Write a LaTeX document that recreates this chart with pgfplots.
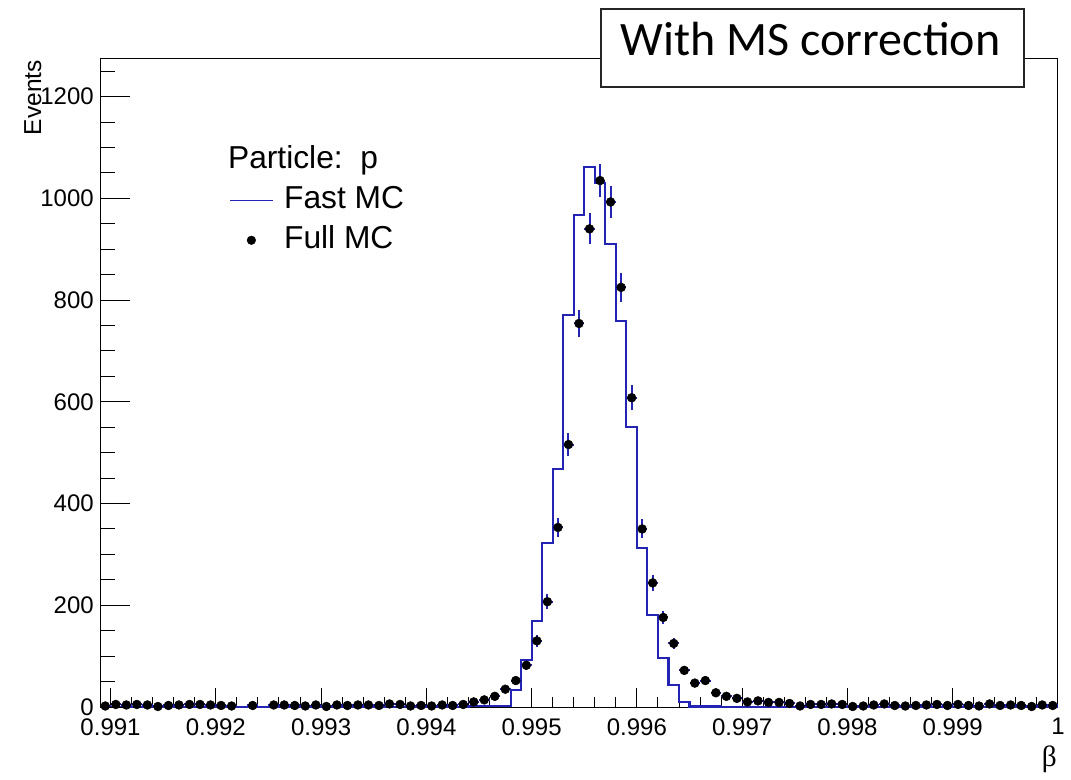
\documentclass[border=0pt]{standalone}
\usepackage{fontspec}
\setmainfont{Liberation Sans}
\newfontfamily\carlito{Carlito}
\newfontfamily\lserif{Liberation Serif}
\usepackage{pgfplots}
\pgfplotsset{compat=1.18}
\usepackage{pgfplotstable}
\definecolor{histblue}{RGB}{36,36,180}
\pgfplotsset{
  lineimage/.style={legend image code/.code={\draw[##1] (0pt,0pt) -- (32pt,0pt);}},
  markimage/.style={legend image code/.code={\path[draw=none] (0pt,0pt) -- (32pt,0pt); \path[draw=none, mark=*, mark size=3.2pt, mark options={draw=black, fill=black}] plot coordinates {(16pt,0pt)};}},
}

% x is (beta - 0.99) * 10^4, i.e. in units of the bin width 0.0001
% Fast MC: left bin edge, content
\pgfplotstableread{
x y
9 0
10 0
20 0
30 0
40 0
44 2
45 2
46 2
47 2
48 33
49 92
50 169
51 322
52 468
53 771
54 967
55 1062
56 1030
57 911
58 759
59 550
60 312
61 181
62 97
63 43
64 10
65 1
66 1
67 1
68 0
80 0
90 0
100 0
}\fastmc

% Full MC: bin centre, content, half bin width, sqrt(content)
\pgfplotstableread{
x y ex ey
9.5 2 0.5 1.4
10.5 5 0.5 2.2
11.5 4 0.5 2.0
12.5 5 0.5 2.2
13.5 4 0.5 2.0
14.5 1 0.5 1.0
15.5 3 0.5 1.7
16.5 4 0.5 2.0
17.5 5 0.5 2.2
18.5 5 0.5 2.2
19.5 4 0.5 2.0
20.5 3 0.5 1.7
21.5 2 0.5 1.4
23.5 3 0.5 1.7
25.5 4 0.5 2.0
26.5 4 0.5 2.0
27.5 3 0.5 1.7
28.5 2 0.5 1.4
29.5 4 0.5 2.0
30.5 1 0.5 1.0
31.5 4 0.5 2.0
32.5 3 0.5 1.7
33.5 4 0.5 2.0
34.5 4 0.5 2.0
35.5 3 0.5 1.7
36.5 6 0.5 2.4
37.5 5 0.5 2.2
38.5 2 0.5 1.4
39.5 3 0.5 1.7
40.5 2 0.5 1.4
41.5 4 0.5 2.0
42.5 3 0.5 1.7
43.5 5 0.5 2.2
44.5 10 0.5 3.2
45.5 14 0.5 3.7
46.5 21 0.5 4.6
47.5 35 0.5 5.9
48.5 52 0.5 7.2
49.5 82 0.5 9.1
50.5 130 0.5 11.4
51.5 207 0.5 14.4
52.5 353 0.5 18.8
53.5 516 0.5 22.7
54.5 754 0.5 27.5
55.5 940 0.5 30.7
56.5 1035 0.5 32.2
57.5 993 0.5 31.5
58.5 825 0.5 28.7
59.5 608 0.5 24.7
60.5 350 0.5 18.7
61.5 244 0.5 15.6
62.5 176 0.5 13.3
63.5 125 0.5 11.2
64.5 72 0.5 8.5
65.5 47 0.5 6.9
66.5 52 0.5 7.2
67.5 28 0.5 5.3
68.5 21 0.5 4.6
69.5 17 0.5 4.1
70.5 10 0.5 3.2
71.5 12 0.5 3.5
72.5 9 0.5 3.0
73.5 9 0.5 3.0
74.5 7 0.5 2.6
75.5 2 0.5 1.4
76.5 5 0.5 2.2
77.5 5 0.5 2.2
78.5 6 0.5 2.4
79.5 5 0.5 2.2
80.5 1 0.5 1.0
81.5 2 0.5 1.4
82.5 4 0.5 2.0
83.5 6 0.5 2.4
84.5 3 0.5 1.7
85.5 2 0.5 1.4
86.5 3 0.5 1.7
87.5 4 0.5 2.0
88.5 5 0.5 2.2
89.5 3 0.5 1.7
90.5 5 0.5 2.2
91.5 3 0.5 1.7
92.5 2 0.5 1.4
93.5 6 0.5 2.4
94.5 3 0.5 1.7
95.5 4 0.5 2.0
96.5 3 0.5 1.7
97.5 1 0.5 1.0
98.5 4 0.5 2.0
99.5 3 0.5 1.7
}\fullmc

\begin{document}
\begin{tikzpicture}
\path[use as bounding box] (-75pt,-54pt) rectangle (728.25pt,530.25pt);
\begin{axis}[
  at={(0pt,0pt)}, anchor=south west,
  scale only axis, width=718.5pt, height=486pt,
  xmin=9, xmax=100, ymin=0, ymax=1274,
  axis line style={line width=0.75pt, black},
  xtick={10,20,30,40,50,60,70,80,90,100},
  xticklabels={0.991,0.992,0.993,0.994,0.995,0.996,0.997,0.998,0.999,1},
  minor xtick={10,12,...,100},
  ytick=\empty,
  xtick pos=bottom, tick align=inside,
  major tick length=14pt, minor tick length=7.5pt,
  tick style={line width=0.75pt, black},
  xticklabel style={font=\fontsize{18}{18}\selectfont, inner sep=0pt, yshift=-8.25pt},
  /pgf/number format/assume math mode=true,
  clip=false,
  legend cell align=left,
  legend style={draw=none, fill=none, at={(rel axis cs:0.1347,0.8673)}, anchor=north west,
    font=\fontsize{23.8}{23.8}\selectfont, inner sep=0pt, row sep=7.5pt, column sep=8pt,
    nodes={inner sep=0pt, text height=17.5pt, text depth=5pt}},
]
\addlegendimage{empty legend}
\addlegendentry{\hspace*{-42pt}Particle:\ \ p}
\addlegendimage{histblue, line width=1.1pt, lineimage}
\addlegendentry{Fast MC}
\addlegendimage{only marks, black, markimage}
\addlegendentry{Full MC}

\addplot[const plot mark left, histblue, line width=1.6pt, forget plot] table[x=x,y=y] {\fastmc};
\addplot[only marks, mark=*, mark size=3.3pt, black, forget plot,
  error bars/.cd, x dir=both, x explicit, y dir=both, y explicit, error mark=none,
  error bar style={histblue, line width=1.5pt}]
  table[x=x, y=y, x error=ex, y error=ey] {\fullmc};
\end{axis}
\begin{axis}[
  at={(0pt,0pt)}, anchor=south west,
  scale only axis, width=718.5pt, height=486pt,
  xmin=9, xmax=100, ymin=0, ymax=1274,
  axis x line=none, axis y line*=left,
  axis line style={line width=0.75pt, black},
  ytick={0,200,400,600,800,1000,1200},
  minor ytick={0,50,...,1250},
  ytick pos=left, tick align=inside,
  major tick length=22.5pt, minor tick length=11.25pt,
  tick style={line width=0.75pt, black},
  yticklabel style={font=\fontsize{18}{18}\selectfont, inner sep=0pt, xshift=-4.5pt,
    /pgf/number format/1000 sep={}},
  /pgf/number format/assume math mode=true,
  /pgf/number format/1000 sep={},
]
\end{axis}
\node[rotate=90, anchor=north east, inner sep=0pt, font=\fontsize{18.4}{18.4}\selectfont] at (-57pt,485.25pt) {Events};
\node[anchor=north east, inner sep=0pt, font=\lserif\fontsize{22}{22}\selectfont] at (717.75pt,-29.25pt) {β};
\node[draw=black!85, line width=1.1pt, fill=white, minimum width=317.25pt, minimum height=58.5pt, inner sep=0pt] at (534.4pt,494.25pt) {};
\node[anchor=base west, inner sep=0pt, font=\carlito\fontsize{36}{36}\selectfont] at (390.5pt,488.25pt) {With MS correction};
\end{tikzpicture}
\end{document}
